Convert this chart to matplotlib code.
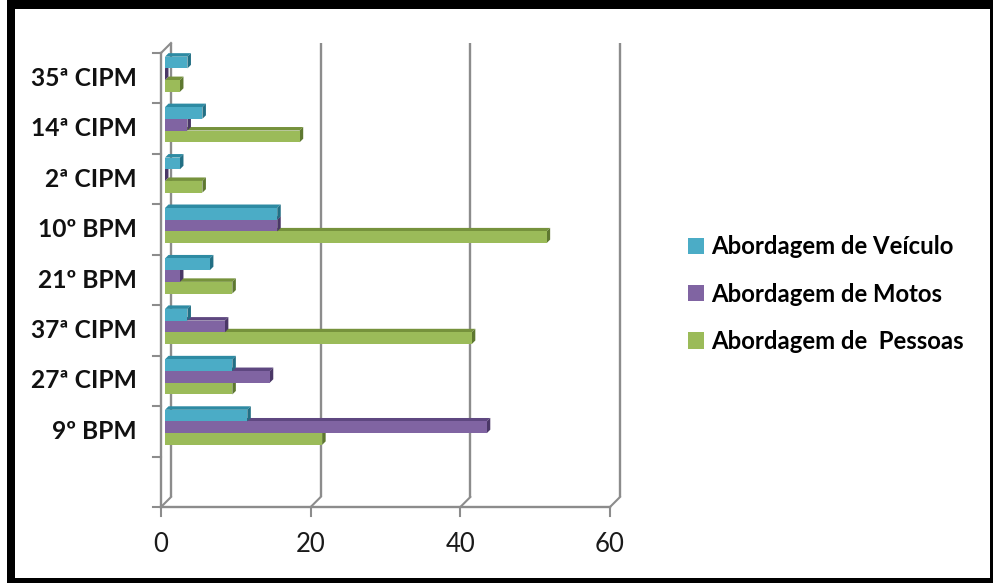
import matplotlib
matplotlib.use("Agg")
import matplotlib.pyplot as plt
from matplotlib.patches import Polygon, Rectangle, Patch

# ---- data -------------------------------------------------------------
units = ["", "9º BPM", "27ª CIPM", "37ª CIPM", "21º BPM",
         "10º BPM", "2ª CIPM", "14ª CIPM", "35ª CIPM"]
veiculo = [None, 11, 9, 3, 6, 15, 2, 5, 3]
motos = [None, 43, 14, 8, 2, 15, 0, 3, 0]
pessoas = [None, 21, 9, 41, 9, 51, 5, 18, 2]
series_names = ["Abordagem de Veículo", "Abordagem de Motos", "Abordagem de  Pessoas"]
x_ticks = [0, 20, 40, 60]

# fill colour, darker top face, darkest side face
colors = {
    "veiculo": ("#4BACC6", "#2E8BA3", "#226F84"),
    "motos": ("#8064A2", "#5E4780", "#4A3766"),
    "pessoas": ("#9BBB59", "#76923C", "#5E7830"),
}

W, H = 993, 583
fig = plt.figure(figsize=(W / 100, H / 100), dpi=100)
fig.patch.set_facecolor("white")


def px_rect(x0, y0, x1, y1):
    return [x0 / W, 1 - y1 / H, (x1 - x0) / W, (y1 - y0) / H]


# plot plane in which the bars sit
ax_l, ax_t, ax_r, ax_b = 165, 49, 614, 503
ax = fig.add_axes(px_rect(ax_l, ax_t, ax_r, ax_b))
xmin, xmax = 0, 60
ymin, ymax = -0.5, len(units) - 0.5
ax.set_xlim(xmin, xmax)
ax.set_ylim(ymin, ymax)
ax.set_axis_off()

sx = (ax_r - ax_l) / (xmax - xmin)     # pixels per value unit
sy = (ax_b - ax_t) / (ymax - ymin)     # pixels per category

grid_c = "#8c8c8c"
# front plane (axis lines) and back wall offsets
fdx, fdy = -4 / sx, -4 / sy
bdx, bdy = 6 / sx, 6 / sy

# back wall gridlines and floor edges
for xv in x_ticks:
    ax.plot([xv + bdx, xv + bdx], [ymin + bdy, ymax + bdy], color=grid_c,
            lw=1.7, clip_on=False, zorder=1, solid_capstyle="butt")
    ax.plot([xv + fdx, xv + bdx], [ymin + fdy, ymin + bdy], color=grid_c,
            lw=1.5, clip_on=False, zorder=1)
# top-left edge of wall
ax.plot([xmin + fdx, xmin + bdx], [ymax + fdy, ymax + bdy], color=grid_c,
        lw=1.5, clip_on=False, zorder=1)

# front axis lines
ax.plot([xmin + fdx, xmin + fdx], [ymin + fdy, ymax + fdy], color=grid_c,
        lw=1.7, clip_on=False, zorder=1)
ax.plot([xmin + fdx, xmax + fdx], [ymin + fdy, ymin + fdy], color=grid_c,
        lw=1.7, clip_on=False, zorder=1)
# category ticks
for k in range(len(units) + 1):
    yv = ymin + k + fdy
    ax.plot([xmin + fdx - 8 / sx, xmin + fdx], [yv, yv], color=grid_c,
            lw=1.5, clip_on=False, zorder=1)
# value ticks
for xv in x_ticks:
    ax.plot([xv + fdx, xv + fdx], [ymin + fdy, ymin + fdy - 9 / sy],
            color=grid_c, lw=1.5, clip_on=False, zorder=1)
    ax.text(xv + fdx, ymin + fdy - 38 / sy, str(xv), ha="center", va="center",
            fontsize=18.5, family="Lato", color="#1a1a1a")

# category labels
for i, name in enumerate(units):
    if name:
        ax.text(xmin + fdx - 24 / sx, i + fdy, name, ha="right", va="center",
                fontsize=17.7, family="Lato", fontweight="bold", color="#111111")

# 3D bars
bh = 11.7 / sy
ddx, ddy = 3.5 / sx, 3.5 / sy
series = [("pessoas", pessoas, -1), ("motos", motos, 0), ("veiculo", veiculo, 1)]
for key, vals, pos in series:
    face, top, side = colors[key]
    for i, v in enumerate(vals):
        if v is None:
            continue
        yc = i + pos * bh
        yb, yt = yc - bh / 2, yc + bh / 2
        ax.add_patch(Polygon([(0, yt), (v, yt), (v + ddx, yt + ddy), (ddx, yt + ddy)],
                             closed=True, fc=top, ec="none", zorder=3 + pos))
        ax.add_patch(Polygon([(v, yb), (v, yt), (v + ddx, yt + ddy), (v + ddx, yb + ddy)],
                             closed=True, fc=side, ec="none", zorder=3 + pos))
        ax.barh(yc, v, height=bh, left=0, color=face, edgecolor="none",
                zorder=3 + pos)

# legend
handles = [Patch(facecolor=colors[k][0], edgecolor="none")
           for k in ("veiculo", "motos", "pessoas")]
fig.legend(handles, series_names, loc="center left",
           bbox_to_anchor=(666 / W, 1 - 294 / H), frameon=False,
           handlelength=0.68, handleheight=0.68, handletextpad=0.3,
           labelspacing=1.02,
           prop={"family": "Lato", "weight": "bold", "size": 17.2})

# outer black frame
frame = [(7, 0, 15, 583), (7, 0, 993, 9), (7, 578, 993, 583), (990, 0, 993, 583)]
for x0, y0, x1, y1 in frame:
    fig.add_artist(Rectangle((x0 / W, 1 - y1 / H), (x1 - x0) / W, (y1 - y0) / H,
                             transform=fig.transFigure, fc="black", ec="none"))

fig.savefig("out.png", dpi=100)
